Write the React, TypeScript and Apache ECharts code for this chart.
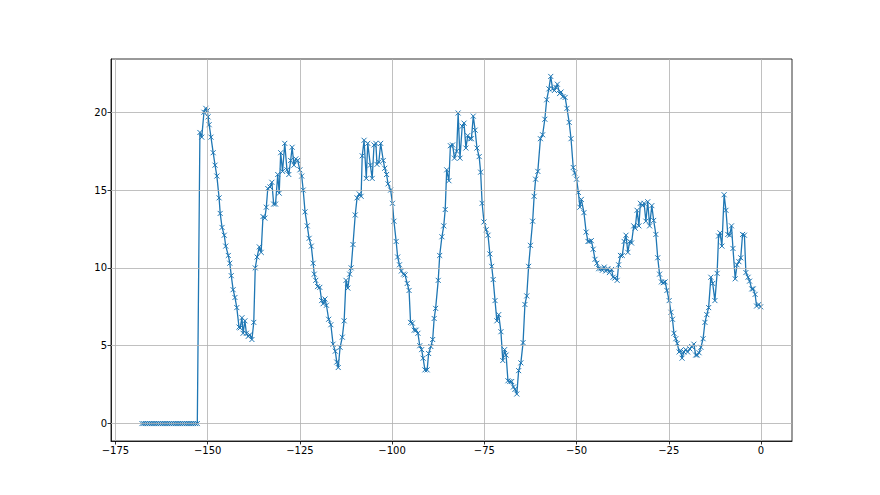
import React, { useEffect, useRef } from "react";
import * as echarts from "echarts";

const xs: number[] = [
  -167.8, -167.3, -166.8, -166.3, -165.8, -165.3, -164.8, -164.3, -163.8, -163.3,
  -162.8, -162.3, -161.8, -161.3, -160.8, -160.3, -159.8, -159.3, -158.8, -158.3,
  -157.8, -157.3, -156.8, -156.3, -155.8, -155.3, -154.8, -154.3, -153.8, -153.3,
  -152.8,
  -152.1, -151.6, -151.0, -150.5, -150.1, -149.9, -149.6, -149.1, -148.5, -148.0,
  -147.5, -146.9, -146.6, -146.1, -145.5, -145.1, -144.4, -144.0, -143.6, -143.1,
  -142.6, -142.1, -141.5, -141.2, -140.7, -140.4, -139.9, -139.5, -139.0, -138.6,
  -138.0, -137.5, -137.1, -136.6, -136.0, -135.5, -135.0, -134.5, -134.1, -133.7,
  -133.1, -132.6, -132.1, -131.6, -131.0, -130.6, -130.2, -129.7, -129.1, -128.5,
  -128.0, -127.5, -127.1, -126.6, -126.1, -125.6, -125.0, -124.5, -124.1, -123.6,
  -123.0, -122.5, -121.9, -121.4, -121.1, -120.7, -120.2, -119.6, -119.1, -118.7,
  -118.2, -117.8, -117.2, -116.6, -116.0, -115.4, -115.0, -114.6, -114.1, -113.5,
  -113.0, -112.5, -112.0, -111.5, -111.1, -110.6, -110.0, -109.5, -108.9, -108.4,
  -108.1, -107.6, -107.0, -106.6, -105.9, -105.4, -104.9, -104.4, -104.1, -103.6,
  -103.1, -102.4, -102.0, -101.5, -101.1, -100.4, -99.9, -99.5, -98.9, -98.5,
  -98.0, -97.5, -96.9, -96.5, -95.9, -95.4, -95.0, -94.5, -94.0, -93.5,
  -93.0, -92.5, -92.0, -91.6, -91.1, -90.5, -90.1, -89.5, -89.0, -88.6,
  -88.2, -87.5, -87.1, -86.5, -86.0, -85.6, -85.2, -84.6, -84.2, -83.6,
  -83.1, -82.5, -82.1, -81.6, -81.0, -80.5, -80.0, -79.5, -78.9, -78.5,
  -78.0, -77.5, -77.0, -76.4, -76.0, -75.6, -75.1, -74.5, -74.0, -73.5,
  -73.0, -72.6, -72.1, -71.6, -71.1, -70.5, -70.0, -69.5, -69.1, -68.6,
  -68.1, -67.6, -67.1, -66.7, -66.2, -65.7, -65.1, -64.5, -64.0, -63.5,
  -63.0, -62.5, -61.9, -61.5, -61.1, -60.5, -59.8, -59.2, -58.6, -58.1,
  -57.5, -57.0, -56.5, -56.0, -55.6, -55.2, -54.6, -54.2, -53.7, -53.1,
  -52.6, -52.0, -51.5, -50.9, -50.5, -50.0, -49.5, -49.1, -48.7, -48.0,
  -47.4, -46.9, -46.6, -46.0, -45.5, -45.0, -44.5, -44.0, -43.4, -43.0,
  -42.5, -42.1, -41.5, -41.1, -40.5, -40.1, -39.6, -39.0, -38.6, -38.1,
  -37.6, -37.1, -36.6, -36.1, -35.6, -35.1, -34.5, -34.1, -33.6, -33.1,
  -32.7, -32.1, -31.7, -31.2, -30.7, -30.2, -29.6, -29.1, -28.5, -28.0,
  -27.5, -27.0, -26.5, -26.0, -25.5, -24.9, -24.4, -24.0, -23.6, -23.1,
  -22.7, -22.2, -21.8, -21.4, -20.9, -20.4, -19.9, -19.3, -18.8, -18.2,
  -17.7, -17.3, -16.8, -16.3, -15.7, -15.2, -14.7, -14.2, -13.6, -13.1,
  -12.5, -11.9, -11.5, -11.1, -10.6, -10.0, -9.5, -9.0, -8.5, -8.0,
  -7.6, -7.0, -6.5, -6.0, -5.5, -5.0, -4.5, -4.1, -3.5, -3.1,
  -2.5, -2.1, -1.6, -1.2, -0.6, -0.1,
];

const ys: number[] = [
  0, 0, 0, 0, 0, 0, 0, 0, 0, 0,
  0, 0, 0, 0, 0, 0, 0, 0, 0, 0,
  0, 0, 0, 0, 0, 0, 0, 0, 0, 0,
  0,
  18.7, 18.4, 20.0, 20.25, 20.1, 19.7, 19.2, 18.4, 17.4, 16.6,
  15.9, 14.5, 13.5, 12.6, 12.1, 11.4, 10.8, 10.3, 9.5, 8.6,
  8.1, 7.45, 6.2, 6.15, 6.8, 5.8, 6.6, 5.8, 5.6, 5.7,
  5.4, 6.5, 10.0, 10.7, 11.35, 11.0, 13.3, 13.2, 13.9, 15.1,
  15.2, 15.5, 14.1, 14.1, 16.0, 14.8, 17.4, 16.2, 18.0, 16.3,
  16.0, 16.9, 17.75, 16.6, 17.0, 16.9, 16.3, 15.9, 15.0, 13.6,
  12.7, 11.9, 11.4, 10.3, 9.6, 9.2, 8.8, 8.75, 7.9, 7.7,
  8.0, 7.6, 6.7, 6.35, 5.1, 4.65, 3.95, 3.6, 4.9, 5.55,
  6.6, 9.2, 8.7, 9.6, 10.0, 11.5, 13.4, 14.5, 14.75, 14.6,
  17.2, 18.2, 15.75, 18.0, 16.6, 15.75, 17.9, 18.0, 16.65, 16.8,
  18.0, 16.9, 16.4, 16.0, 15.4, 15.0, 14.15, 13.0, 11.7, 10.7,
  10.2, 9.8, 9.6, 9.55, 9.0, 8.55, 6.5, 6.45, 6.0, 6.0,
  5.8, 5.0, 4.75, 4.2, 3.45, 3.45, 4.5, 4.95, 5.4, 6.75,
  7.4, 9.2, 10.8, 12.0, 12.7, 13.75, 16.3, 15.6, 17.85, 17.9,
  17.05, 17.5, 19.95, 17.05, 19.1, 19.3, 17.7, 18.5, 18.3, 18.3,
  19.75, 18.85, 17.7, 17.15, 16.15, 14.15, 12.95, 12.45, 12.1, 10.9,
  10.1, 9.25, 7.9, 6.6, 7.0, 5.9, 4.05, 4.75, 4.4, 2.75,
  2.7, 2.7, 2.35, 2.2, 1.9, 3.4, 3.9, 5.2, 7.65, 8.2,
  10.1, 11.45, 13.0, 14.6, 15.7, 16.2, 18.3, 18.55, 19.55, 20.8,
  21.5, 22.3, 21.5, 21.4, 21.6, 21.8, 21.2, 21.3, 21.0, 20.95,
  20.25, 19.35, 18.3, 16.45, 16.1, 15.7, 14.85, 13.9, 14.4, 13.55,
  12.3, 11.7, 11.7, 11.75, 11.2, 10.55, 10.3, 9.95, 9.95, 9.85,
  10.05, 9.8, 9.95, 9.7, 9.9, 9.4, 9.35, 9.2, 10.2, 10.8,
  10.8, 11.7, 12.1, 11.0, 11.7, 11.6, 12.7, 12.55, 13.7, 12.7,
  14.15, 14.0, 14.15, 13.0, 14.25, 12.7, 14.0, 13.05, 12.15, 10.65,
  9.6, 9.1, 9.05, 9.1, 8.55, 7.9, 7.15, 6.7, 5.8, 5.45,
  5.15, 4.6, 4.7, 4.2, 4.6, 4.75, 4.6, 4.8, 4.95, 5.1,
  4.4, 4.4, 4.55, 4.9, 5.45, 6.5, 7.0, 7.45, 9.4, 9.0,
  7.9, 9.65, 12.05, 12.25, 11.4, 14.7, 13.7, 12.15, 12.1, 12.7,
  11.25, 9.3, 10.2, 10.4, 10.65, 12.15, 12.1, 9.7, 9.4, 9.15,
  8.65, 8.65, 8.3, 7.55, 7.65, 7.5,
];

const xTicks: number[] = [-175, -150, -125, -100, -75, -50, -25, 0];
const yTicks: number[] = [0, 5, 10, 15, 20];

const fmt = (v: number) => (v < 0 ? "\u2212" + Math.abs(v) : String(v));

export default function App() {
  const ref = useRef<HTMLDivElement>(null);
  useEffect(() => {
    if (!ref.current) return;
    const chart = echarts.init(ref.current, undefined, { renderer: "svg" });
    const data = xs.map((x, i) => [x, ys[i]]);
    const labelStyle = {
      fontFamily: "DejaVu Sans",
      fontSize: 10,
      color: "#000",
    };
    chart.setOption({
      animation: false,
      backgroundColor: "#fff",
      grid: {
        left: 111,
        right: 88,
        top: 59,
        bottom: 54,
        show: true,
        borderColor: "#000",
        borderWidth: 0.8,
        backgroundColor: "transparent",
      },
      xAxis: {
        type: "value",
        min: -176.2,
        max: 8.4,
        splitLine: { show: false },
        axisLine: { show: true, onZero: false, lineStyle: { color: "#000", width: 0.8 } },
        axisTick: {
          show: true,
          length: 3.5,
          customValues: xTicks,
          lineStyle: { color: "#000", width: 0.8 },
        },
        axisLabel: {
          ...labelStyle,
          margin: 4,
          customValues: xTicks,
          formatter: (v: number) => fmt(v),
        },
      },
      yAxis: {
        type: "value",
        min: -1.12,
        max: 23.42,
        splitLine: { show: false },
        axisLine: { show: true, onZero: false, lineStyle: { color: "#000", width: 0.8 } },
        axisTick: {
          show: true,
          length: 3.5,
          customValues: yTicks,
          lineStyle: { color: "#000", width: 0.8 },
        },
        axisLabel: {
          ...labelStyle,
          margin: 4,
          customValues: yTicks,
          formatter: (v: number) => fmt(v),
        },
      },
      series: [
        {
          type: "line",
          z: 1,
          data: [],
          silent: true,
          markLine: {
            silent: true,
            symbol: ["none", "none"],
            label: { show: false },
            lineStyle: { color: "#b0b0b0", width: 0.8, type: "solid" },
            emphasis: { disabled: true },
            data: [
              ...xTicks.map((v) => ({ xAxis: v })),
              ...yTicks.map((v) => ({ yAxis: v })),
            ],
          },
        },
        {
          type: "line",
          z: 3,
          data,
          symbol: "path://M0 0L10 10M10 0L0 10",
          symbolSize: 5,
          showAllSymbol: true,
          lineStyle: { color: "#1f77b4", width: 1.3 },
          itemStyle: {
            color: "transparent",
            borderColor: "#1f77b4",
            borderWidth: 1,
          },
          emphasis: { disabled: true },
        },
      ],
    });
    return () => chart.dispose();
  }, []);
  return (
    <div
      ref={ref}
      style={{ position: "absolute", left: 0, top: 0, width: 880, height: 495 }}
    />
  );
}
